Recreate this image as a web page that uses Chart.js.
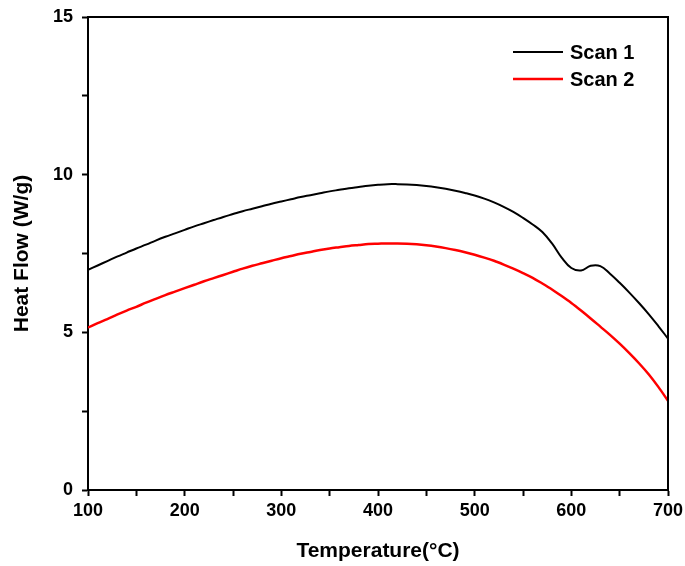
<!DOCTYPE html>
<html>
<head>
<meta charset="utf-8">
<script src="https://cdn.jsdelivr.net/npm/chart.js@4/dist/chart.umd.min.js"></script>
<style>
  html, body { margin: 0; padding: 0; background: #fff; }
  #wrap { width: 685px; height: 566px; }
</style>
</head>
<body>
<div id="wrap"><canvas id="mychart" width="685" height="566"></canvas></div>
<script>
// temperatures, every 10 degC
var Temperature = [100,110,120,130,140,150,160,170,180,190,200,210,220,230,240,250,260,270,280,290,300,
  310,320,330,340,350,360,370,380,390,400,410,420,430,440,450,460,470,480,490,500,
  510,520,530,540,550,560,570,580,590,600,610,620,630,640,650,660,670,680,690,700]

var Scan1 = [6.98,7.12,7.26,7.40,7.53,7.66,7.78,7.91,8.03,8.14,8.25,8.36,8.46,8.56,8.66,8.75,8.84,8.92,9.00,9.08,9.15,
  9.22,9.29,9.35,9.41,9.47,9.52,9.57,9.61,9.65,9.68,9.70,9.70,9.69,9.67,9.64,9.60,9.55,9.49,9.42,9.34,
  9.24,9.12,8.98,8.82,8.63,8.42,8.18,7.82,7.37,7.04,6.96,7.11,7.10,6.86,6.57,6.26,5.93,5.58,5.20,4.80]

var Scan2 = [5.15,5.29,5.42,5.56,5.69,5.81,5.94,6.06,6.18,6.29,6.40,6.51,6.62,6.72,6.82,6.92,7.02,7.11,7.19,7.27,7.35,
  7.42,7.49,7.55,7.61,7.66,7.70,7.74,7.77,7.80,7.81,7.82,7.82,7.81,7.79,7.76,7.72,7.67,7.61,7.54,7.46,
  7.37,7.27,7.15,7.02,6.88,6.73,6.55,6.36,6.15,5.93,5.69,5.44,5.18,4.92,4.64,4.34,4.02,3.67,3.27,2.83]

var xTicks = [100,200,300,400,500,600,700]
var yTicks = [0,5,10,15]

function toPoints(ys){
    var pts = []
    for (var i = 0; i < Temperature.length; i++) pts.push({x: Temperature[i], y: ys[i]})
    return pts
}

var FONT = "'Liberation Sans', Arial, sans-serif"

// frame on top and right + legend inside the plot
var framePlugin = {
    id: 'frame',
    afterDraw: function(chart){
        var ctx = chart.ctx, a = chart.chartArea
        ctx.save()
        ctx.strokeStyle = '#000'
        ctx.lineWidth = 2
        ctx.beginPath()
        ctx.moveTo(a.left, a.top)
        ctx.lineTo(a.right, a.top)
        ctx.lineTo(a.right, a.bottom)
        ctx.stroke()

        // legend
        var x0 = a.left + 425, y0 = a.top + 35
        ctx.font = 'bold 20px ' + FONT
        ctx.textBaseline = 'middle'
        chart.data.datasets.forEach(function(ds, i){
            var y = y0 + i * 27
            ctx.strokeStyle = ds.borderColor
            ctx.lineWidth = ds.borderWidth
            ctx.beginPath()
            ctx.moveTo(x0, y)
            ctx.lineTo(x0 + 50, y)
            ctx.stroke()
            ctx.fillStyle = '#000'
            ctx.fillText(ds.label, x0 + 57, y + 1)
        })
        ctx.restore()
    }
}

var chart = new Chart(document.getElementById('mychart').getContext('2d'), {
    type: 'line',
    data: {
        datasets: [
            { label: 'Scan 1', data: toPoints(Scan1), borderColor: '#000000', borderWidth: 2, pointRadius: 0, tension: 0.4, fill: false },
            { label: 'Scan 2', data: toPoints(Scan2), borderColor: '#ff0000', borderWidth: 2.5, pointRadius: 0, cubicInterpolationMode: 'monotone', fill: false }
        ]
    },
    options: {
        responsive: false,
        animation: false,
        layout: { padding: { left: 0, right: 17, top: 17, bottom: 0 } },
        plugins: { legend: { display: false }, tooltip: { enabled: false } },
        scales: {
            x: {
                type: 'linear', min: 100, max: 700,
                afterFit: function(s){ s.height = 76; s.paddingLeft = 0; s.paddingRight = 0 },
                afterBuildTicks: function(s){
                    var t = []
                    for (var v = 100; v <= 700; v += 50) t.push({value: v})
                    s.ticks = t
                },
                border: { color: '#000', width: 2 },
                grid: { drawOnChartArea: false, drawTicks: true, tickLength: 6, tickWidth: 2, tickColor: '#000' },
                ticks: {
                    color: '#000', padding: 4, maxRotation: 0, autoSkip: false,
                    font: { family: FONT, size: 18, weight: 'bold' },
                    callback: function(v){ return xTicks.indexOf(v) >= 0 ? String(v) : '' }
                },
                title: {
                    display: true, text: 'Temperature(°C)', color: '#000',
                    font: { family: FONT, size: 21, weight: 'bold' },
                    padding: { top: 12, bottom: 2 }
                }
            },
            y: {
                min: 0, max: 15,
                afterFit: function(s){ s.width = 88; s.paddingTop = 0; s.paddingBottom = 0 },
                afterBuildTicks: function(s){
                    var t = []
                    for (var v = 0; v <= 15; v += 2.5) t.push({value: v})
                    s.ticks = t
                },
                border: { color: '#000', width: 2 },
                grid: { drawOnChartArea: false, drawTicks: true, tickLength: 6, tickWidth: 2, tickColor: '#000' },
                ticks: {
                    color: '#000', padding: 9, autoSkip: false,
                    font: { family: FONT, size: 18, weight: 'bold' },
                    callback: function(v){ return yTicks.indexOf(v) >= 0 ? String(v) : '' }
                },
                title: {
                    display: true, text: 'Heat Flow (W/g)', color: '#000',
                    font: { family: FONT, size: 21, weight: 'bold' },
                    padding: { top: 10, bottom: 0 }
                }
            }
        }
    },
    plugins: [framePlugin]
})
</script>
</body>
</html>
